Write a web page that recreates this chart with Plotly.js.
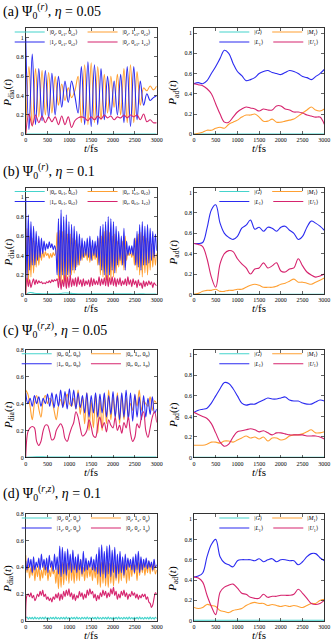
<!DOCTYPE html>
<html>
<head>
<meta charset="utf-8">
<script src="https://cdn.plot.ly/plotly-3.0.1.min.js"></script>
<style>body{margin:0;background:#fff}</style>
</head>
<body>
<div id="myDiv" style="width:331px;height:643px"></div>
<script>
// ---- (a) eta = 0.05, Psi0^(r) ----
// diabatic, sampled every 75 fs
const dtA = 75;
const cyanA = [0.003, 0.003, 0.003, 0.003, 0.003, 0.003, 0.003];
const orangeA = [0, 0.7, 0.08, 0.68, 0.18, 0.66, 0.2, 0.64, 0.22, 0.6,
  0.3, 0.52, 0.35, 0.48, 0.38, 0.45, 0.6, 0.12, 0.72, 0.1,
  0.74, 0.12, 0.7, 0.15, 0.62, 0.22, 0.6, 0.28, 0.62, 0.2,
  0.68, 0.12, 0.72, 0.12, 0.65, 0.3, 0.48, 0.45, 0.5, 0.46, 0.5];
const blueA = [1.0, 0.05, 0.83, 0.1, 0.68, 0.14, 0.66, 0.17, 0.63, 0.2,
  0.6, 0.28, 0.55, 0.33, 0.55, 0.4, 0.22, 0.7, 0.1, 0.75,
  0.08, 0.72, 0.1, 0.68, 0.15, 0.6, 0.2, 0.55, 0.2, 0.62,
  0.12, 0.7, 0.08, 0.7, 0.15, 0.55, 0.3, 0.42, 0.35, 0.38, 0.4];
const magentaA = [0, 0.21, 0.09, 0.2, 0.12, 0.19, 0.12, 0.18, 0.13, 0.18,
  0.1, 0.19, 0.1, 0.18, 0.07, 0.14, 0.17, 0.18, 0.17, 0.14,
  0.18, 0.15, 0.19, 0.16, 0.2, 0.17, 0.19, 0.15, 0.18, 0.17,
  0.2, 0.17, 0.2, 0.18, 0.2, 0.15, 0.21, 0.13, 0.15, 0.12, 0.12];
// adiabatic, every 100 fs
const gA = [0.002, 0.002, 0.002, 0.002, 0.002, 0.002, 0.002];
const m1A = [0, 0.01, 0.02, 0.04, 0.04, 0.06, 0.07, 0.06, 0.1, 0.12,
  0.14, 0.17, 0.19, 0.19, 0.2, 0.17, 0.13, 0.13, 0.15, 0.12,
  0.12, 0.13, 0.14, 0.15, 0.18, 0.21, 0.24, 0.27, 0.24, 0.23, 0.25];
const l1A = [0.5, 0.51, 0.5, 0.53, 0.6, 0.67, 0.75, 0.83, 0.8, 0.7,
  0.62, 0.58, 0.53, 0.54, 0.56, 0.6, 0.62, 0.63, 0.61, 0.6,
  0.59, 0.61, 0.63, 0.62, 0.6, 0.57, 0.56, 0.54, 0.57, 0.6, 0.64];
const u1A = [0.5, 0.49, 0.48, 0.45, 0.4, 0.3, 0.2, 0.12, 0.12, 0.17,
  0.22, 0.25, 0.27, 0.26, 0.25, 0.23, 0.25, 0.24, 0.24, 0.28,
  0.28, 0.25, 0.24, 0.22, 0.22, 0.21, 0.19, 0.18, 0.17, 0.17, 0.1];

// ---- (b) eta = 0.1, Psi0^(r) ----
const dtB = 30;
const cyanB = [0, 0.02, 0.012, 0.008, 0.006, 0.005, 0.005, 0.006, 0.01, 0.015,
  0.012, 0.008, 0.006, 0.005, 0.005, 0.005, 0.006, 0.006, 0.005, 0.005,
  0.006, 0.007, 0.006, 0.005, 0.005, 0.004, 0.005, 0.005, 0.004, 0.004, 0.004];
const orangeB = [0, 0.68, 0.1, 0.6, 0.18, 0.58, 0.22, 0.55, 0.28, 0.5,
  0.3, 0.48, 0.35, 0.45, 0.38, 0.44, 0.4, 0.42, 0.37, 0.42,
  0.38, 0.43, 0.4, 0.44, 0.64, 0.15, 0.66, 0.1, 0.65, 0.12,
  0.66, 0.12, 0.62, 0.18, 0.62, 0.2, 0.58, 0.22, 0.56, 0.28,
  0.52, 0.3, 0.5, 0.35, 0.48, 0.38, 0.46, 0.35, 0.48, 0.33,
  0.5, 0.35, 0.47, 0.36, 0.5, 0.3, 0.58, 0.2, 0.6, 0.18,
  0.65, 0.15, 0.66, 0.12, 0.64, 0.15, 0.6, 0.18, 0.62, 0.22,
  0.55, 0.28, 0.5, 0.3, 0.55, 0.25, 0.6, 0.35, 0.45, 0.4,
  0.44, 0.38, 0.48, 0.3, 0.58, 0.25, 0.62, 0.2, 0.64, 0.18,
  0.6, 0.22, 0.58, 0.2, 0.55, 0.25, 0.52, 0.28, 0.5, 0.3, 0.42];
const blueB = [1.0, 0.15, 0.82, 0.25, 0.75, 0.3, 0.7, 0.3, 0.65, 0.35,
  0.6, 0.38, 0.58, 0.42, 0.55, 0.45, 0.52, 0.47, 0.54, 0.48,
  0.52, 0.46, 0.5, 0.45, 0.2, 0.78, 0.15, 0.87, 0.2, 0.8,
  0.15, 0.82, 0.2, 0.75, 0.18, 0.72, 0.25, 0.7, 0.25, 0.65,
  0.3, 0.62, 0.35, 0.58, 0.38, 0.55, 0.4, 0.58, 0.38, 0.6,
  0.35, 0.56, 0.4, 0.55, 0.38, 0.6, 0.3, 0.7, 0.25, 0.72,
  0.2, 0.75, 0.18, 0.8, 0.2, 0.78, 0.25, 0.75, 0.22, 0.7,
  0.3, 0.65, 0.35, 0.6, 0.3, 0.68, 0.25, 0.55, 0.4, 0.5,
  0.42, 0.5, 0.4, 0.58, 0.3, 0.65, 0.28, 0.72, 0.25, 0.75,
  0.3, 0.7, 0.3, 0.72, 0.32, 0.68, 0.35, 0.65, 0.38, 0.62, 0.45];
const magentaB = [0, 0.17, 0.08, 0.15, 0.07, 0.12, 0.16, 0.1, 0.15, 0.11,
  0.14, 0.12, 0.13, 0.11, 0.12, 0.11, 0.13, 0.12, 0.14, 0.12,
  0.15, 0.13, 0.15, 0.14, 0.16, 0.07, 0.19, 0.05, 0.15, 0.08,
  0.2, 0.06, 0.18, 0.07, 0.2, 0.08, 0.16, 0.09, 0.17, 0.08,
  0.18, 0.1, 0.15, 0.08, 0.16, 0.09, 0.14, 0.1, 0.15, 0.08,
  0.17, 0.09, 0.16, 0.1, 0.14, 0.1, 0.18, 0.09, 0.16, 0.1,
  0.17, 0.09, 0.2, 0.08, 0.17, 0.1, 0.18, 0.09, 0.17, 0.08,
  0.16, 0.1, 0.17, 0.09, 0.14, 0.1, 0.16, 0.09, 0.18, 0.1,
  0.15, 0.08, 0.16, 0.1, 0.14, 0.07, 0.15, 0.09, 0.12, 0.06,
  0.14, 0.08, 0.13, 0.09, 0.14, 0.1, 0.13, 0.07, 0.12, 0.1, 0.09];
const gB = [0.002, 0.002, 0.002, 0.002, 0.002, 0.002, 0.002];
const m1B = [0, 0.01, 0.03, 0.04, 0.04, 0.05, 0.03, 0.03, 0.04, 0.04,
  0.05, 0.05, 0.07, 0.09, 0.1, 0.09, 0.07, 0.07, 0.07, 0.08,
  0.1, 0.11, 0.13, 0.15, 0.12, 0.12, 0.11, 0.1, 0.12, 0.14, 0.16];
const l1B = [0.5, 0.5, 0.51, 0.65, 0.83, 0.88, 0.7, 0.6, 0.56, 0.54,
  0.57, 0.65, 0.68, 0.73, 0.64, 0.66, 0.62, 0.66, 0.65, 0.62,
  0.66, 0.67, 0.63, 0.6, 0.54, 0.57, 0.66, 0.72, 0.7, 0.67, 0.63];
const u1B = [0.5, 0.49, 0.47, 0.35, 0.17, 0.07, 0.3, 0.4, 0.43, 0.42,
  0.35, 0.3, 0.26, 0.2, 0.25, 0.26, 0.31, 0.26, 0.28, 0.31,
  0.23, 0.22, 0.25, 0.26, 0.35, 0.28, 0.22, 0.19, 0.17, 0.18, 0.2];

// ---- (c) eta = 0.05, Psi0^(r,z) ----
const dtC = 50;
const cyanC = [0.002, 0.006, 0.004, 0.003, 0.003, 0.003, 0.003, 0.003, 0.003, 0.003, 0.003, 0.003, 0.003];
const orangeC = [0.5, 0.47, 0.38, 0.28, 0.4, 0.46, 0.36, 0.3, 0.42, 0.46,
  0.4, 0.44, 0.42, 0.35, 0.28, 0.38, 0.43, 0.38, 0.42, 0.47,
  0.4, 0.38, 0.44, 0.36, 0.5, 0.32, 0.45, 0.25, 0.48, 0.2,
  0.42, 0.22, 0.47, 0.18, 0.44, 0.2, 0.45, 0.25, 0.5, 0.28,
  0.45, 0.3, 0.48, 0.25, 0.46, 0.28, 0.44, 0.3, 0.4, 0.35,
  0.46, 0.38, 0.5, 0.35, 0.42, 0.4, 0.38, 0.45, 0.35, 0.42, 0.4];
const blueC = [0.48, 0.4, 0.44, 0.38, 0.46, 0.4, 0.45, 0.38, 0.44, 0.4,
  0.47, 0.38, 0.48, 0.37, 0.47, 0.38, 0.5, 0.37, 0.49, 0.36,
  0.51, 0.38, 0.5, 0.36, 0.48, 0.37, 0.46, 0.33, 0.48, 0.3,
  0.46, 0.33, 0.48, 0.3, 0.47, 0.33, 0.48, 0.3, 0.46, 0.32,
  0.49, 0.3, 0.46, 0.28, 0.48, 0.3, 0.5, 0.28, 0.48, 0.27,
  0.47, 0.3, 0.45, 0.28, 0.46, 0.3, 0.44, 0.32, 0.45, 0.33, 0.36];
const magentaC = [0, 0.19, 0.22, 0.23, 0.22, 0.12, 0.09, 0.12, 0.2, 0.24,
  0.24, 0.19, 0.13, 0.14, 0.2, 0.23, 0.25, 0.22, 0.14, 0.12,
  0.17, 0.22, 0.26, 0.34, 0.3, 0.22, 0.16, 0.17, 0.2, 0.28,
  0.23, 0.16, 0.15, 0.24, 0.3, 0.22, 0.26, 0.19, 0.28, 0.24,
  0.22, 0.3, 0.2, 0.24, 0.18, 0.26, 0.22, 0.3, 0.18, 0.12,
  0.15, 0.25, 0.22, 0.3, 0.34, 0.2, 0.15, 0.22, 0.3, 0.34, 0.26];
const gC = [0.002, 0.002, 0.002, 0.002, 0.002, 0.002, 0.002];
const m1C = [0.12, 0.12, 0.12, 0.13, 0.15, 0.15, 0.14, 0.16, 0.16, 0.15,
  0.17, 0.19, 0.21, 0.19, 0.2, 0.18, 0.2, 0.16, 0.19, 0.19,
  0.17, 0.18, 0.21, 0.22, 0.22, 0.23, 0.25, 0.27, 0.24, 0.24, 0.25];
const l1C = [0.44, 0.46, 0.47, 0.48, 0.53, 0.6, 0.67, 0.73, 0.72, 0.67,
  0.6, 0.53, 0.51, 0.52, 0.52, 0.54, 0.56, 0.58, 0.57, 0.57,
  0.58, 0.59, 0.56, 0.55, 0.55, 0.53, 0.52, 0.52, 0.54, 0.56, 0.55];
const u1C = [0.44, 0.42, 0.4, 0.38, 0.33, 0.24, 0.15, 0.11, 0.13, 0.2,
  0.25, 0.26, 0.27, 0.28, 0.27, 0.25, 0.26, 0.24, 0.22, 0.24,
  0.24, 0.23, 0.22, 0.22, 0.22, 0.22, 0.21, 0.21, 0.21, 0.2, 0.18];

// ---- (d) eta = 0.1, Psi0^(r,z) ----
const dtD = 30;
const cyanD = [0.02, 0.028, 0.012, 0.026, 0.014, 0.025, 0.011, 0.027, 0.013, 0.024,
  0.012, 0.026, 0.014, 0.025, 0.012, 0.027, 0.013, 0.024, 0.011, 0.026,
  0.014, 0.025, 0.012, 0.027, 0.013, 0.024, 0.012, 0.026, 0.014, 0.025,
  0.011, 0.027, 0.013, 0.024, 0.012, 0.026, 0.014, 0.025, 0.012, 0.027,
  0.013, 0.024, 0.011, 0.026, 0.014, 0.025, 0.012, 0.027, 0.013, 0.024,
  0.012, 0.026, 0.014, 0.025, 0.011, 0.027, 0.013, 0.024, 0.012, 0.026,
  0.014, 0.025, 0.012, 0.027, 0.013, 0.024, 0.011, 0.026, 0.014, 0.025,
  0.012, 0.027, 0.013, 0.024, 0.012, 0.026, 0.014, 0.025, 0.011, 0.027,
  0.013, 0.024, 0.012, 0.026, 0.014, 0.025, 0.012, 0.027, 0.013, 0.024,
  0.011, 0.026, 0.014, 0.025, 0.012, 0.027, 0.013, 0.024, 0.012, 0.026, 0.015];
const orangeD = [0.49, 0.36, 0.42, 0.32, 0.4, 0.34, 0.42, 0.3, 0.4, 0.33,
  0.41, 0.3, 0.38, 0.32, 0.42, 0.34, 0.4, 0.3, 0.38, 0.33,
  0.42, 0.35, 0.38, 0.28, 0.4, 0.24, 0.42, 0.25, 0.44, 0.27,
  0.45, 0.3, 0.43, 0.28, 0.46, 0.3, 0.42, 0.28, 0.45, 0.3,
  0.44, 0.3, 0.46, 0.33, 0.4, 0.3, 0.42, 0.32, 0.44, 0.33,
  0.4, 0.3, 0.43, 0.32, 0.4, 0.27, 0.45, 0.25, 0.44, 0.28,
  0.46, 0.26, 0.44, 0.25, 0.43, 0.28, 0.46, 0.26, 0.42, 0.3,
  0.45, 0.28, 0.43, 0.3, 0.46, 0.32, 0.42, 0.28, 0.44, 0.3,
  0.42, 0.33, 0.45, 0.35, 0.42, 0.3, 0.44, 0.34, 0.46, 0.36,
  0.44, 0.34, 0.42, 0.36, 0.45, 0.35, 0.43, 0.37, 0.44, 0.35, 0.38];
const blueD = [0.45, 0.38, 0.47, 0.4, 0.46, 0.36, 0.48, 0.38, 0.44, 0.4,
  0.47, 0.38, 0.5, 0.4, 0.46, 0.38, 0.47, 0.36, 0.49, 0.4,
  0.45, 0.37, 0.5, 0.38, 0.48, 0.35, 0.56, 0.33, 0.55, 0.35,
  0.52, 0.34, 0.54, 0.38, 0.5, 0.36, 0.53, 0.38, 0.48, 0.36,
  0.5, 0.38, 0.46, 0.35, 0.52, 0.37, 0.47, 0.38, 0.45, 0.4,
  0.48, 0.38, 0.46, 0.37, 0.5, 0.35, 0.55, 0.33, 0.57, 0.35,
  0.52, 0.32, 0.56, 0.35, 0.57, 0.33, 0.53, 0.36, 0.55, 0.32,
  0.5, 0.35, 0.52, 0.36, 0.48, 0.34, 0.5, 0.38, 0.47, 0.4,
  0.46, 0.38, 0.48, 0.36, 0.5, 0.38, 0.52, 0.36, 0.48, 0.38,
  0.46, 0.4, 0.47, 0.39, 0.45, 0.4, 0.44, 0.38, 0.46, 0.4, 0.42];
const magentaD = [0, 0.19, 0.2, 0.18, 0.21, 0.17, 0.19, 0.15, 0.17, 0.2,
  0.18, 0.22, 0.19, 0.23, 0.18, 0.2, 0.16, 0.18, 0.15, 0.17,
  0.14, 0.18, 0.16, 0.2, 0.17, 0.21, 0.15, 0.2, 0.16, 0.22,
  0.18, 0.23, 0.19, 0.24, 0.18, 0.21, 0.16, 0.2, 0.15, 0.19,
  0.17, 0.22, 0.18, 0.21, 0.16, 0.2, 0.17, 0.23, 0.19, 0.24,
  0.2, 0.22, 0.17, 0.2, 0.15, 0.19, 0.16, 0.21, 0.18, 0.23,
  0.19, 0.22, 0.17, 0.21, 0.18, 0.24, 0.2, 0.25, 0.19, 0.22,
  0.16, 0.2, 0.17, 0.22, 0.19, 0.23, 0.18, 0.21, 0.16, 0.2,
  0.18, 0.22, 0.19, 0.21, 0.17, 0.2, 0.16, 0.19, 0.17, 0.2,
  0.18, 0.2, 0.16, 0.18, 0.14, 0.13, 0.1, 0.12, 0.17, 0.21, 0.2];
const gD = [0.003, 0.003, 0.003, 0.003, 0.003, 0.003, 0.003];
const m1D = [0.13, 0.12, 0.13, 0.16, 0.15, 0.14, 0.1, 0.09, 0.08, 0.1,
  0.11, 0.12, 0.15, 0.17, 0.18, 0.17, 0.17, 0.15, 0.16, 0.15,
  0.14, 0.15, 0.14, 0.15, 0.14, 0.13, 0.15, 0.17, 0.17, 0.2, 0.21];
const l1D = [0.43, 0.44, 0.47, 0.63, 0.75, 0.8, 0.63, 0.57, 0.55, 0.53,
  0.59, 0.6, 0.6, 0.6, 0.59, 0.61, 0.58, 0.6, 0.61, 0.58,
  0.6, 0.6, 0.59, 0.59, 0.55, 0.58, 0.63, 0.66, 0.66, 0.62, 0.59];
const u1D = [0.43, 0.42, 0.38, 0.25, 0.14, 0.06, 0.28, 0.33, 0.35, 0.36,
  0.32, 0.27, 0.26, 0.23, 0.22, 0.22, 0.26, 0.23, 0.24, 0.24,
  0.25, 0.25, 0.25, 0.26, 0.31, 0.27, 0.22, 0.17, 0.16, 0.17, 0.2];

const dtAd = 100;   // adiabatic sampling
const dtFlat = 500; // near-zero ground state curves

const xTicks = [0, 500, 1000, 1500, 2000, 2500, 3000];

const namesRC = ['|0<sub>r</sub>, 0<sub>c1</sub>, 0<sub>c2</sub>⟩', '|0<sub>r</sub>, 1<sub>c1</sub>, 0<sub>c2</sub>⟩',
  '|1<sub>r</sub>, 0<sub>c1</sub>, 0<sub>c2</sub>⟩', '|0<sub>r</sub>, 0<sub>c1</sub>, 1<sub>c2</sub>⟩'];
const namesRZ = ['|0<sub>r</sub>, 0<sub>z</sub>, 0<sub>φ</sub>⟩', '|0<sub>r</sub>, 1<sub>z</sub>, 0<sub>φ</sub>⟩',
  '|1<sub>r</sub>, 0<sub>z</sub>, 0<sub>φ</sub>⟩', '|0<sub>r</sub>, 0<sub>z</sub>, 1<sub>φ</sub>⟩'];
const namesAd = ['|<i>G</i>⟩', '|<i>M</i><sub>1</sub>⟩', '|<i>L</i><sub>1</sub>⟩', '|<i>U</i><sub>1</sub>⟩'];

const colors = ['#45d4cc', '#ffa033', '#2b2bf0', '#d6246e'];

const panelTitles = [
  '(a) Ψ<sub>0</sub><sup>(<i>r</i>)</sup>, <i>η</i> = 0.05',
  '(b) Ψ<sub>0</sub><sup>(<i>r</i>)</sup>, <i>η</i> = 0.1',
  '(c) Ψ<sub>0</sub><sup>(<i>r</i>,<i>z</i>)</sup>, <i>η</i> = 0.05',
  '(d) Ψ<sub>0</sub><sup>(<i>r</i>,<i>z</i>)</sup>, <i>η</i> = 0.1'
];

// pixel geometry of the figure
const W = 331, H = 643;
const px = v => v / W;
const py = v => 1 - v / H;
const rowTop = [28, 187.5, 349.7, 514];
const rowBot = [134.3, 294.4, 457.5, 620.7];
const titleY = [10.7, 171, 330, 493];
const colX = [[25.7, 156.7], [194, 324.3]];

const panels = [
  {dia: [[cyanA, dtFlat], [orangeA, dtA], [blueA, dtA], [magentaA, dtA]], ad: [gA, m1A, l1A, u1A], names: namesRC, ymax: 1.1},
  {dia: [[cyanB, dtAd], [orangeB, dtB], [blueB, dtB], [magentaB, dtB]], ad: [gB, m1B, l1B, u1B], names: namesRC, ymax: 1.1},
  {dia: [[cyanC, 250], [orangeC, dtC], [blueC, dtC], [magentaC, dtC]], ad: [gC, m1C, l1C, u1C], names: namesRZ, ymax: 0.8},
  {dia: [[cyanD, dtD], [orangeD, dtD], [blueD, dtD], [magentaD, dtD]], ad: [gD, m1D, l1D, u1D], names: namesRZ, ymax: 0.8}
];

const font = 'Liberation Serif, DejaVu Serif, serif';
const data = [];
const layout = {
  width: W, height: H,
  margin: {l: 0, r: 0, t: 0, b: 0},
  paper_bgcolor: '#fff', plot_bgcolor: '#fff',
  font: {family: font, color: '#000', size: 6},
  showlegend: true,
  annotations: []
};

const axis = (domain, range, dtick, anchor) => ({
  domain, range, dtick, tick0: 0, anchor,
  ticks: 'inside', ticklen: 3, tickwidth: 0.6, tickcolor: '#000',
  showline: true, linecolor: '#000', linewidth: 0.8, mirror: 'allticks',
  showgrid: false, zeroline: false,
  tickfont: {size: 6, family: font}, fixedrange: true
});

const legKey = n => n === 1 ? 'legend' : 'legend' + n;

panels.forEach((p, r) => {
  const yDom = [py(rowBot[r]), py(rowTop[r])];
  [0, 1].forEach(side => {
    const k = r * 2 + side + 1;
    const xa = k === 1 ? 'x' : 'x' + k;
    const ya = k === 1 ? 'y' : 'y' + k;
    const xDom = [px(colX[side][0]), px(colX[side][1])];
    layout[k === 1 ? 'xaxis' : 'xaxis' + k] = Object.assign(axis(xDom, [0, 3000], 500, ya), {tickvals: xTicks});
    layout[k === 1 ? 'yaxis' : 'yaxis' + k] = axis(yDom, [0, side ? 1.05 : p.ymax], 0.2, xa);

    const names = side ? namesAd : p.names;
    for (let i = 0; i < 4; i++) {
      const y = side ? p.ad[i] : p.dia[i][0];
      const dx = side ? (i === 0 ? dtFlat : dtAd) : p.dia[i][1];
      data.push({
        type: 'scatter', mode: 'lines', x0: 0, dx: dx, y: y,
        xaxis: xa, yaxis: ya, name: names[i],
        legend: legKey((k - 1) * 2 + (i < 2 ? 1 : 2)),
        line: {color: colors[i], width: 1.1, shape: 'spline', smoothing: 1},
        hoverinfo: 'skip'
      });
    }
    // two legend rows, gnuplot-like key in the top right corner
    for (let row = 0; row < 2; row++) {
      layout[legKey((k - 1) * 2 + row + 1)] = {
        x: px(colX[side][1] - 1), xanchor: 'right',
        y: py(rowTop[r] + 4 + row * 10), yanchor: 'middle',
        orientation: 'h', bgcolor: 'rgba(0,0,0,0)', borderwidth: 0,
        font: {size: 6, family: font}, itemwidth: 30, tracegroupgap: 0
      };
    }
    const mid = (colX[side][0] + colX[side][1]) / 2;
    layout.annotations.push({
      text: '<i>t</i>/fs', xref: 'paper', yref: 'paper', x: px(mid), y: py(rowBot[r] + 14),
      xanchor: 'center', yanchor: 'middle', showarrow: false, font: {size: 11}
    });
    layout.annotations.push({
      text: side ? '<i>P</i><sub>ad</sub>(<i>t</i>)' : '<i>P</i><sub>dia</sub>(<i>t</i>)',
      xref: 'paper', yref: 'paper', x: px(side ? 173.5 : 8.5), y: py((rowTop[r] + rowBot[r]) / 2 + 12),
      xanchor: 'center', yanchor: 'middle', textangle: -90, showarrow: false, font: {size: 11}
    });
  });
  layout.annotations.push({
    text: panelTitles[r], xref: 'paper', yref: 'paper', x: px(1), y: py(titleY[r]),
    xanchor: 'left', yanchor: 'middle', showarrow: false, font: {size: 14}
  });
});

Plotly.newPlot('myDiv', data, layout, {displayModeBar: false, staticPlot: true});
</script>
</body>
</html>
